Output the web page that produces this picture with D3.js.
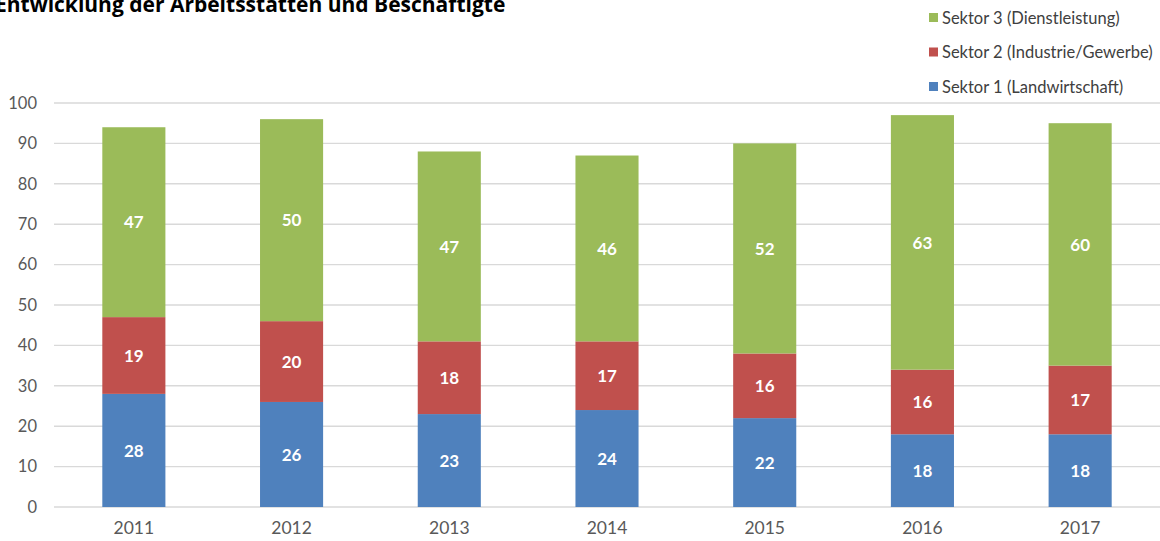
<!DOCTYPE html>
<html>
<head>
<meta charset="utf-8">
<script src="https://cdn.jsdelivr.net/npm/d3@7"></script>
<style>
  html, body { margin: 0; padding: 0; background: #fff; }
  svg { display: block; }
</style>
</head>
<body>
<svg id="chart" width="1160" height="541"></svg>
<script>
// Jahre und Beschäftigte je Sektor
const years = ["2011", "2012", "2013", "2014", "2015", "2016", "2017"];
const sektor1 = [28, 26, 23, 24, 22, 18, 18];
const sektor2 = [19, 20, 18, 17, 16, 16, 17];
const sektor3 = [47, 50, 47, 46, 52, 63, 60];
const seriesNames = ["Sektor 1 (Landwirtschaft)", "Sektor 2 (Industrie/Gewerbe)", "Sektor 3 (Dienstleistung)"];
const seriesColors = ["#4F81BD", "#C0504D", "#9BBB59"];
const yTicks = [0, 10, 20, 30, 40, 50, 60, 70, 80, 90, 100];

const svg = d3.select("#chart");
const font = "Lato, 'Open Sans', sans-serif";

const rows = years.map((y, i) => ({ year: y, s1: sektor1[i], s2: sektor2[i], s3: sektor3[i] }));
const keys = ["s1", "s2", "s3"];
const stacked = d3.stack().keys(keys)(rows);

const x = d3.scaleBand().domain(years).range([55, 1159]).paddingInner(0.6).paddingOuter(0.3);
const y = d3.scaleLinear().domain([0, 100]).range([507, 103]);

// Gitterlinien
svg.append("g")
  .selectAll("line")
  .data(yTicks)
  .join("line")
  .attr("x1", 54).attr("x2", 1160)
  .attr("y1", d => y(d)).attr("y2", d => y(d))
  .attr("stroke", "#d9d9d9")
  .attr("stroke-width", 1.4);

// Y-Achse
const yAxis = svg.append("g")
  .attr("transform", "translate(54,0)")
  .call(d3.axisLeft(y).tickValues(yTicks).tickSize(0).tickPadding(17));
yAxis.select(".domain").remove();
yAxis.selectAll("text")
  .attr("font-family", font)
  .attr("font-size", 16.5)
  .attr("fill", "#595959");

// X-Achse
const xAxis = svg.append("g")
  .attr("transform", "translate(0,507)")
  .call(d3.axisBottom(x).tickSize(0).tickPadding(15));
xAxis.select(".domain").remove();
xAxis.selectAll("text")
  .attr("font-family", font)
  .attr("font-size", 17.5)
  .attr("fill", "#595959");

// Gestapelte Balken
const layers = svg.append("g")
  .selectAll("g")
  .data(stacked)
  .join("g")
  .attr("fill", (d, i) => seriesColors[i]);

layers.selectAll("rect")
  .data(d => d)
  .join("rect")
  .attr("x", d => x(d.data.year))
  .attr("width", x.bandwidth())
  .attr("y", d => y(d[1]))
  .attr("height", d => y(d[0]) - y(d[1]));

// Wertbeschriftungen
layers.selectAll("text")
  .data(d => d.map(v => ({ v, key: d.key })))
  .join("text")
  .attr("x", d => x(d.v.data.year) + x.bandwidth() / 2)
  .attr("y", d => y((d.v[0] + d.v[1]) / 2))
  .attr("dy", "0.36em")
  .attr("text-anchor", "middle")
  .attr("font-family", font)
  .attr("font-weight", "bold")
  .attr("font-size", 17)
  .attr("fill", "#fff")
  .text(d => d.v.data[d.key]);

// Legende (Sektor 3 oben)
const legendOrder = [2, 1, 0];
const legend = svg.append("g")
  .selectAll("g")
  .data(legendOrder)
  .join("g")
  .attr("transform", (d, i) => `translate(929,${18 + i * 34.5})`);
legend.append("rect")
  .attr("x", 0).attr("y", -5).attr("width", 9).attr("height", 9)
  .attr("fill", d => seriesColors[d]);
legend.append("text")
  .attr("x", 13).attr("y", 0).attr("dy", "0.35em")
  .attr("font-family", font)
  .attr("font-size", 16.5)
  .attr("fill", "#404040")
  .text(d => seriesNames[d]);

// Titel
svg.append("text")
  .attr("x", -5).attr("y", 12)
  .attr("font-family", "'Open Sans', sans-serif")
  .attr("font-weight", "bold")
  .attr("font-size", 21)
  .attr("fill", "#000")
  .text("Entwicklung der Arbeitsstätten und Beschäftigte");
</script>
</body>
</html>
